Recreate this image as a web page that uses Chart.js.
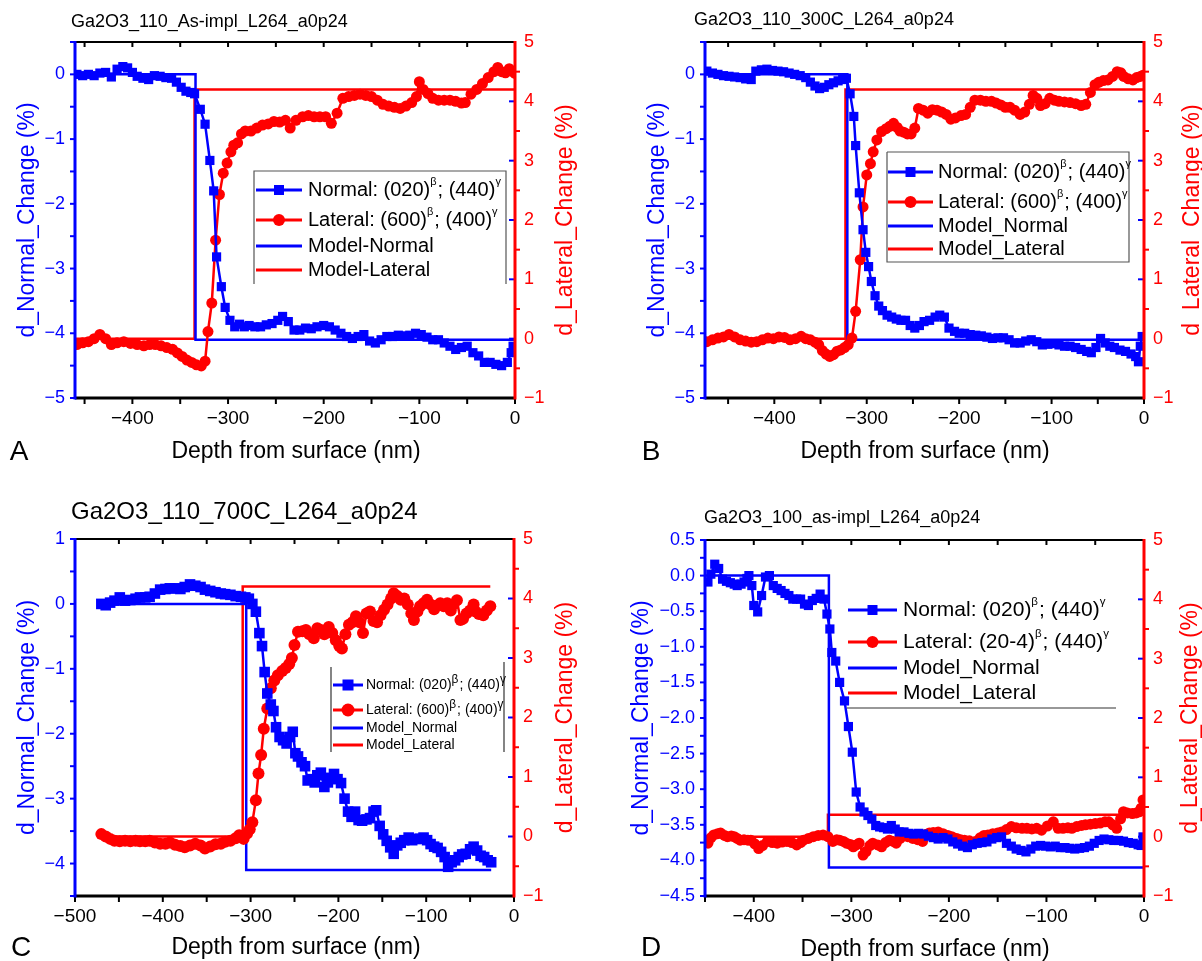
<!DOCTYPE html>
<html>
<head>
<meta charset="utf-8">
<title>Ga2O3 strain depth profiles</title>
<script src="https://cdn.jsdelivr.net/npm/chart.js@4.4.1/dist/chart.umd.min.js"></script>
<style>
  body { margin: 0; background: #fff; }
  #wrap { position: relative; width: 1202px; height: 961px; background: #fff; }
  #wrap canvas { position: absolute; }
</style>
</head>
<body>
<div id="wrap">
  <canvas id="pA" width="601" height="480" style="left:0;top:0"></canvas>
  <canvas id="pB" width="601" height="480" style="left:601px;top:0"></canvas>
  <canvas id="pC" width="601" height="481" style="left:0;top:480px"></canvas>
  <canvas id="pD" width="601" height="481" style="left:601px;top:480px"></canvas>
</div>
<script>
// depth (nm), d_Normal_Change (%) / d_Lateral_Change (%)
const normalA = [[-458,0.0],[-452,-0.02],[-446,0.0],[-440,-0.02],[-434,0.02],[-428,0.03],[-422,-0.04],[-416,0.08],[-410,0.12],[-405,0.1],[-400,0.03],[-395,-0.03],[-389,-0.06],[-383,-0.08],[-377,-0.02],[-371,-0.03],[-365,-0.05],[-359,-0.06],[-354,-0.12],[-349,-0.2],[-344,-0.26],[-339,-0.28],[-335,-0.3],[-329,-0.54],[-324,-0.77],[-319,-1.33],[-315,-1.8],[-312,-2.82],[-307,-3.28],[-303,-3.6],[-298,-3.8],[-293,-3.9],[-288,-3.86],[-283,-3.9],[-278,-3.88],[-272,-3.9],[-266,-3.9],[-260,-3.87],[-254,-3.85],[-248,-3.8],[-243,-3.74],[-237,-3.82],[-231,-3.95],[-225,-3.95],[-219,-3.92],[-213,-3.93],[-207,-3.9],[-200,-3.88],[-194,-3.9],[-188,-3.95],[-182,-4.0],[-176,-4.05],[-170,-4.08],[-164,-4.05],[-158,-4.02],[-152,-4.12],[-146,-4.15],[-140,-4.1],[-134,-4.05],[-128,-4.05],[-122,-4.03],[-116,-4.04],[-110,-4.03],[-104,-4.0],[-98,-4.02],[-92,-4.06],[-86,-4.1],[-80,-4.1],[-74,-4.15],[-68,-4.2],[-62,-4.25],[-56,-4.22],[-50,-4.2],[-44,-4.3],[-38,-4.35],[-32,-4.45],[-26,-4.45],[-20,-4.48],[-14,-4.5],[-8,-4.45],[-4,-4.3],[-2,-4.2]];
const lateralA = [[-458,-0.1],[-452,-0.07],[-446,-0.05],[-440,0.0],[-434,0.07],[-428,0.0],[-422,-0.1],[-416,-0.07],[-409,-0.05],[-402,-0.08],[-395,-0.1],[-388,-0.12],[-382,-0.1],[-376,-0.1],[-370,-0.12],[-364,-0.15],[-358,-0.18],[-353,-0.24],[-348,-0.3],[-343,-0.36],[-338,-0.4],[-333,-0.44],[-328,-0.46],[-324,-0.38],[-321,0.12],[-317,0.6],[-313,1.66],[-309,2.43],[-305,2.79],[-301,2.96],[-297,3.15],[-294,3.26],[-290,3.3],[-286,3.45],[-282,3.5],[-276,3.5],[-270,3.55],[-264,3.6],[-258,3.62],[-252,3.66],[-246,3.65],[-240,3.68],[-235,3.55],[-229,3.68],[-222,3.74],[-216,3.76],[-210,3.74],[-204,3.74],[-198,3.74],[-192,3.63],[-186,3.8],[-180,4.05],[-174,4.08],[-168,4.1],[-162,4.12],[-156,4.1],[-150,4.08],[-144,4.02],[-138,3.95],[-132,3.92],[-126,3.9],[-120,3.88],[-114,3.92],[-108,3.98],[-103,4.08],[-100,4.33],[-96,4.2],[-91,4.13],[-86,4.05],[-80,4.02],[-74,4.02],[-68,4.02],[-62,4.0],[-56,3.97],[-52,3.98],[-46,4.12],[-40,4.2],[-34,4.3],[-28,4.4],[-22,4.5],[-18,4.57],[-14,4.5],[-10,4.48],[-6,4.55],[-2,4.5],[0,4.47]];
const modelNormalA = [[-460,0],[-334,0],[-334,-4.1],[0,-4.1]];
const modelLateralA = [[-460,0],[-335,0],[-335,4.2],[0,4.2]];

const normalB = [[-473,0.05],[-467,0.02],[-461,0.0],[-455,-0.02],[-449,-0.03],[-443,-0.04],[-437,-0.05],[-431,-0.07],[-425,-0.08],[-420,0.05],[-414,0.07],[-408,0.08],[-402,0.06],[-396,0.05],[-390,0.04],[-384,0.02],[-378,0.0],[-372,-0.02],[-366,-0.05],[-361,-0.12],[-356,-0.18],[-351,-0.22],[-346,-0.2],[-341,-0.16],[-336,-0.13],[-331,-0.1],[-326,-0.08],[-322,-0.06],[-318,-0.3],[-314,-0.65],[-312,-1.1],[-308,-1.83],[-304,-2.4],[-301,-2.75],[-298,-2.97],[-295,-3.2],[-291,-3.42],[-287,-3.58],[-283,-3.65],[-278,-3.72],[-273,-3.75],[-268,-3.78],[-263,-3.8],[-258,-3.8],[-253,-3.88],[-248,-3.92],[-243,-3.88],[-238,-3.82],[-232,-3.8],[-226,-3.75],[-221,-3.72],[-216,-3.75],[-211,-3.92],[-205,-3.97],[-200,-4.0],[-194,-4.0],[-188,-4.02],[-182,-4.03],[-176,-4.04],[-170,-4.06],[-164,-4.08],[-158,-4.07],[-152,-4.07],[-146,-4.1],[-140,-4.15],[-134,-4.15],[-128,-4.12],[-122,-4.1],[-116,-4.13],[-110,-4.18],[-104,-4.17],[-98,-4.16],[-92,-4.18],[-86,-4.2],[-80,-4.2],[-74,-4.22],[-68,-4.25],[-62,-4.28],[-57,-4.3],[-52,-4.22],[-47,-4.08],[-42,-4.15],[-37,-4.2],[-32,-4.22],[-26,-4.26],[-20,-4.28],[-14,-4.32],[-9,-4.36],[-6,-4.44],[-4,-4.2],[-2,-4.05]];
const lateralB = [[-473,-0.05],[-467,-0.02],[-461,0.01],[-455,0.03],[-449,0.07],[-443,0.03],[-437,-0.02],[-431,-0.04],[-425,-0.06],[-419,-0.05],[-413,-0.02],[-407,0.01],[-401,0.0],[-395,0.03],[-389,0.02],[-383,-0.02],[-377,0.0],[-371,0.04],[-366,0.0],[-361,-0.02],[-356,-0.06],[-352,-0.1],[-348,-0.2],[-344,-0.26],[-340,-0.3],[-336,-0.27],[-332,-0.21],[-328,-0.19],[-324,-0.15],[-320,-0.1],[-316,0.01],[-312,0.46],[-307,1.33],[-304,2.22],[-300,2.76],[-296,2.95],[-293,3.15],[-289,3.35],[-284,3.49],[-279,3.54],[-275,3.58],[-271,3.63],[-267,3.56],[-264,3.5],[-260,3.48],[-256,3.45],[-252,3.45],[-248,3.55],[-244,3.88],[-239,3.85],[-234,3.8],[-229,3.86],[-224,3.85],[-219,3.82],[-214,3.78],[-209,3.7],[-204,3.72],[-198,3.76],[-193,3.78],[-188,3.9],[-183,4.02],[-177,4.02],[-171,4.0],[-165,4.0],[-160,3.97],[-155,3.94],[-150,3.9],[-145,3.9],[-140,3.85],[-134,3.78],[-129,3.82],[-124,3.95],[-120,4.1],[-116,4.05],[-112,3.93],[-107,3.96],[-102,4.05],[-97,4.02],[-92,4.0],[-86,3.99],[-80,3.98],[-74,3.96],[-68,3.93],[-63,3.95],[-58,4.15],[-53,4.28],[-49,4.32],[-44,4.35],[-39,4.36],[-34,4.42],[-29,4.5],[-25,4.48],[-22,4.42],[-17,4.38],[-12,4.36],[-8,4.4],[-4,4.42],[-1,4.44]];
const modelNormalB = [[-475,0],[-321,0],[-321,-4.1],[0,-4.1]];
const modelLateralB = [[-475,0],[-323,0],[-323,4.2],[0,4.2]];

const normalC = [[-470,0.0],[-465,-0.02],[-460,0.02],[-455,0.05],[-449,0.1],[-443,0.05],[-437,0.06],[-431,0.08],[-426,0.1],[-420,0.1],[-415,0.11],[-409,0.16],[-403,0.22],[-397,0.23],[-392,0.24],[-386,0.24],[-380,0.23],[-375,0.26],[-369,0.3],[-363,0.28],[-357,0.26],[-352,0.22],[-346,0.2],[-340,0.18],[-334,0.16],[-329,0.15],[-323,0.14],[-317,0.12],[-311,0.11],[-306,0.1],[-302,0.08],[-298,0.0],[-294,-0.12],[-290,-0.45],[-287,-0.65],[-284,-1.05],[-281,-1.38],[-277,-1.55],[-274,-1.65],[-271,-1.9],[-267,-2.05],[-263,-2.1],[-259,-2.15],[-255,-2.05],[-252,-1.97],[-249,-2.3],[-246,-2.35],[-242,-2.44],[-238,-2.5],[-235,-2.72],[-231,-2.7],[-227,-2.75],[-224,-2.64],[-220,-2.6],[-216,-2.82],[-212,-2.75],[-209,-2.68],[-205,-2.62],[-201,-2.7],[-197,-2.76],[-193,-3.0],[-189,-3.2],[-185,-3.28],[-181,-3.2],[-177,-3.33],[-173,-3.34],[-168,-3.32],[-164,-3.3],[-160,-3.2],[-157,-3.18],[-153,-3.42],[-149,-3.55],[-145,-3.65],[-141,-3.75],[-137,-3.85],[-133,-3.72],[-129,-3.68],[-125,-3.64],[-120,-3.6],[-116,-3.64],[-112,-3.62],[-107,-3.62],[-103,-3.6],[-99,-3.64],[-95,-3.7],[-91,-3.74],[-87,-3.76],[-83,-3.82],[-79,-3.9],[-75,-4.05],[-71,-3.98],[-67,-3.95],[-63,-3.9],[-59,-3.86],[-55,-3.85],[-50,-3.78],[-46,-3.74],[-42,-3.8],[-38,-3.88],[-34,-3.9],[-30,-3.95],[-26,-3.98]];
const lateralC = [[-470,0.04],[-465,0.0],[-460,-0.04],[-455,-0.07],[-449,-0.08],[-443,-0.07],[-437,-0.08],[-431,-0.07],[-426,-0.08],[-420,-0.08],[-415,-0.07],[-409,-0.1],[-403,-0.12],[-397,-0.12],[-392,-0.1],[-386,-0.14],[-380,-0.16],[-375,-0.18],[-369,-0.15],[-363,-0.12],[-357,-0.15],[-352,-0.2],[-346,-0.17],[-340,-0.13],[-334,-0.12],[-329,-0.09],[-323,-0.07],[-317,-0.03],[-313,0.02],[-308,-0.04],[-304,0.05],[-301,0.12],[-298,0.24],[-294,0.61],[-291,1.06],[-288,1.37],[-285,1.81],[-281,2.15],[-277,2.49],[-273,2.62],[-269,2.71],[-264,2.78],[-260,2.83],[-256,2.9],[-253,3.0],[-250,3.22],[-246,3.44],[-241,3.45],[-237,3.47],[-233,3.4],[-228,3.33],[-224,3.5],[-220,3.47],[-216,3.4],[-211,3.52],[-207,3.42],[-203,3.3],[-199,3.2],[-196,3.16],[-192,3.4],[-188,3.56],[-184,3.6],[-180,3.7],[-176,3.6],[-172,3.42],[-168,3.75],[-164,3.78],[-160,3.62],[-156,3.6],[-152,3.72],[-148,3.81],[-144,3.9],[-140,4.0],[-137,4.09],[-133,4.04],[-129,3.98],[-125,4.0],[-121,3.9],[-117,3.75],[-114,3.64],[-110,3.78],[-107,3.87],[-103,3.92],[-99,3.98],[-95,3.9],[-91,3.82],[-88,3.88],[-84,3.92],[-80,3.87],[-76,3.92],[-72,3.8],[-69,3.9],[-65,3.97],[-61,3.64],[-58,3.66],[-54,3.75],[-50,3.8],[-46,3.9],[-44,3.78],[-40,3.74],[-35,3.72],[-31,3.8],[-27,3.87]];
const modelNormalC = [[-470,0],[-305,0],[-305,-4.1],[-26,-4.1]];
const modelLateralC = [[-470,0],[-309,0],[-309,4.2],[-27,4.2]];

const normalD = [[-447,-0.09],[-444,0.02],[-440,0.16],[-436,0.1],[-432,-0.05],[-428,-0.08],[-424,-0.1],[-420,-0.12],[-417,-0.14],[-413,-0.12],[-410,-0.09],[-407,-0.04],[-405,0.0],[-402,-0.14],[-400,-0.42],[-396,-0.51],[-392,-0.28],[-388,-0.02],[-384,0.0],[-380,-0.14],[-376,-0.18],[-372,-0.21],[-368,-0.25],[-364,-0.28],[-360,-0.33],[-356,-0.33],[-352,-0.33],[-348,-0.4],[-344,-0.42],[-340,-0.35],[-336,-0.32],[-332,-0.26],[-328,-0.33],[-325,-0.54],[-322,-0.75],[-320,-1.08],[-316,-1.2],[-312,-1.5],[-307,-1.76],[-303,-2.12],[-299,-2.48],[-295,-3.04],[-291,-3.25],[-287,-3.32],[-283,-3.37],[-279,-3.42],[-275,-3.51],[-271,-3.53],[-267,-3.54],[-263,-3.56],[-259,-3.51],[-255,-3.56],[-251,-3.6],[-246,-3.6],[-241,-3.62],[-236,-3.63],[-231,-3.62],[-226,-3.63],[-221,-3.66],[-216,-3.68],[-211,-3.7],[-206,-3.68],[-201,-3.7],[-196,-3.74],[-191,-3.77],[-186,-3.8],[-181,-3.82],[-176,-3.78],[-171,-3.76],[-166,-3.75],[-161,-3.74],[-156,-3.7],[-151,-3.68],[-146,-3.67],[-141,-3.76],[-136,-3.8],[-131,-3.84],[-126,-3.86],[-121,-3.88],[-116,-3.84],[-111,-3.8],[-106,-3.79],[-101,-3.8],[-96,-3.81],[-91,-3.8],[-86,-3.82],[-81,-3.82],[-76,-3.83],[-71,-3.84],[-66,-3.83],[-61,-3.82],[-56,-3.8],[-51,-3.76],[-46,-3.72],[-41,-3.7],[-36,-3.71],[-31,-3.72],[-26,-3.72],[-21,-3.73],[-16,-3.75],[-11,-3.76],[-6,-3.78],[-3,-3.79],[-1,-3.67]];
const lateralD = [[-447,-0.11],[-444,-0.02],[-441,0.03],[-437,0.05],[-434,0.06],[-430,0.02],[-427,0.0],[-423,0.01],[-420,0.0],[-417,-0.03],[-414,-0.06],[-410,-0.05],[-406,-0.06],[-403,-0.06],[-399,-0.12],[-395,-0.2],[-391,-0.15],[-386,-0.08],[-381,-0.1],[-376,-0.11],[-371,-0.09],[-366,-0.08],[-361,-0.1],[-356,-0.14],[-352,-0.1],[-349,-0.06],[-344,-0.03],[-339,0.0],[-334,0.02],[-329,0.03],[-324,0.0],[-319,-0.08],[-315,-0.05],[-312,-0.06],[-308,-0.08],[-305,-0.11],[-301,-0.13],[-298,-0.17],[-295,-0.14],[-292,-0.11],[-288,-0.31],[-285,-0.25],[-281,-0.15],[-278,-0.11],[-273,-0.14],[-269,-0.17],[-265,-0.1],[-261,-0.06],[-257,-0.08],[-254,-0.11],[-250,-0.03],[-247,0.03],[-242,0.0],[-237,-0.03],[-232,-0.05],[-227,-0.08],[-223,0.04],[-220,0.06],[-216,0.07],[-211,0.08],[-206,0.05],[-201,0.02],[-197,0.0],[-192,-0.03],[-188,-0.05],[-184,-0.06],[-179,-0.07],[-173,-0.08],[-168,-0.02],[-164,0.02],[-160,0.03],[-155,0.05],[-150,0.06],[-146,0.08],[-141,0.12],[-136,0.17],[-131,0.15],[-125,0.14],[-120,0.14],[-115,0.13],[-110,0.14],[-105,0.11],[-99,0.18],[-93,0.25],[-88,0.14],[-83,0.14],[-78,0.15],[-74,0.14],[-69,0.17],[-64,0.19],[-60,0.2],[-55,0.21],[-50,0.22],[-45,0.23],[-40,0.25],[-36,0.25],[-32,0.2],[-28,0.14],[-24,0.3],[-21,0.42],[-17,0.4],[-12,0.39],[-8,0.4],[-5,0.42],[-3,0.48],[-1,0.62]];
const modelNormalD = [[-450,0],[-323,0],[-323,-4.1],[0,-4.1]];
const modelLateralD = [[-450,0],[-324,0],[-324,0.37],[0,0.37]];

// tick labels
const depthTicks = [-400, -300, -200, -100, 0];
const depthTicksC = [-500, -400, -300, -200, -100, 0];
const normalTicks = [0, -1, -2, -3, -4, -5];
const normalTicksC = [1, 0, -1, -2, -3, -4];
const normalTicksD = [0.5, 0, -0.5, -1, -1.5, -2, -2.5, -3, -3.5, -4, -4.5];
const lateralTicks = [5, 4, 3, 2, 1, 0, -1];

const BLUE = '#0000ff';
const RED = '#ff0000';
const FONT = '"Liberation Sans", Arial, sans-serif';

const minus = s => String(s).replace('-', '\u2212');
const xy = arr => arr.map(([x, y]) => ({ x, y }));

function seg(ctx, x1, y1, x2, y2) {
  ctx.beginPath();
  ctx.moveTo(x1, y1);
  ctx.lineTo(x2, y2);
  ctx.stroke();
}

// text with raised β / γ parts
function richText(ctx, parts, x, y, size, supScale) {
  let cx = x;
  for (const [txt, sup] of parts) {
    const fs = sup ? size * supScale : size;
    ctx.font = fs + 'px ' + FONT;
    ctx.fillText(txt, cx, sup ? y - size * 0.38 : y);
    cx += ctx.measureText(txt).width + (sup ? 1 : 0);
  }
}

// frame, tick marks, axis titles, panel title, letter and legend
const decor = {
  id: 'decor',
  afterDraw(chart, args, o) {
    const ctx = chart.ctx;
    const a = chart.chartArea;
    const sx = chart.scales.x, yl = chart.scales.yL, yr = chart.scales.yR;
    ctx.save();

    // tick marks
    ctx.lineWidth = 2;
    ctx.strokeStyle = '#000';
    for (let v = Math.ceil(sx.min / 50) * 50; v <= sx.max; v += 50) {
      const px = sx.getPixelForValue(v);
      seg(ctx, px, a.bottom, px, a.bottom + 6);
      seg(ctx, px, a.top, px, a.top + 5);
    }
    ctx.strokeStyle = BLUE;
    for (let v = yl.min; v <= yl.max + 1e-9; v += o.leftStep) {
      const py = yl.getPixelForValue(v);
      seg(ctx, a.left - 5, py, a.left, py);
    }
    for (let v = yr.min; v <= yr.max + 1e-9; v += 0.5) {
      const py = yr.getPixelForValue(v);
      if (Number.isInteger(v)) {
        ctx.strokeStyle = BLUE;
        seg(ctx, a.right - 6, py, a.right, py);
      } else {
        ctx.strokeStyle = RED;
        seg(ctx, a.right, py, a.right + 5, py);
      }
    }

    // frame
    ctx.strokeStyle = '#000';
    ctx.lineWidth = 2;
    seg(ctx, a.left, a.top, a.right, a.top);
    ctx.lineWidth = 3;
    seg(ctx, a.left, a.bottom, a.right, a.bottom);
    ctx.strokeStyle = BLUE;
    seg(ctx, a.left, a.top - 1, a.left, a.bottom + 1.5);
    ctx.strokeStyle = RED;
    seg(ctx, a.right, a.top - 1, a.right, a.bottom + 1.5);

    // axis titles
    const midY = (a.top + a.bottom) / 2;
    ctx.textAlign = 'center';
    ctx.textBaseline = 'middle';
    ctx.font = '23px ' + FONT;
    ctx.fillStyle = '#000';
    ctx.fillText('Depth from surface (nm)', o.xTitle[0], o.xTitle[1]);
    ctx.save();
    ctx.translate(o.leftTitleX, midY);
    ctx.rotate(-Math.PI / 2);
    ctx.fillStyle = BLUE;
    ctx.fillText('d_Normal_Change (%)', 0, 0);
    ctx.restore();
    ctx.save();
    ctx.translate(o.rightTitleX, midY);
    ctx.rotate(-Math.PI / 2);
    ctx.fillStyle = RED;
    ctx.fillText('d_Lateral_Change (%)', 0, 0);
    ctx.restore();

    // panel title and letter
    ctx.fillStyle = '#000';
    ctx.textAlign = 'left';
    ctx.font = o.titleSize + 'px ' + FONT;
    ctx.fillText(o.title, o.titlePos[0], o.titlePos[1]);
    ctx.textAlign = 'center';
    ctx.font = '28px ' + FONT;
    ctx.fillText(o.letter, o.letterPos[0], o.letterPos[1]);

    // legend
    const L = o.legend;
    ctx.strokeStyle = L.frameColor;
    ctx.lineWidth = 1.2;
    for (const p of L.frame) {
      ctx.beginPath();
      ctx.moveTo(p[0], p[1]);
      for (let i = 2; i < p.length; i += 2) ctx.lineTo(p[i], p[i + 1]);
      ctx.stroke();
    }
    ctx.textAlign = 'left';
    L.rows.forEach((row, i) => {
      const y = L.ys[i];
      const color = i % 2 === 0 ? BLUE : RED;
      ctx.strokeStyle = color;
      ctx.fillStyle = color;
      ctx.lineWidth = 3;
      seg(ctx, L.x0, y, L.x1, y);
      const cx = (L.x0 + L.x1) / 2;
      if (i === 0) {
        ctx.fillRect(cx - L.sq / 2, y - L.sq / 2, L.sq, L.sq);
      } else if (i === 1) {
        ctx.beginPath();
        ctx.arc(cx, y, L.dot, 0, Math.PI * 2);
        ctx.fill();
      }
      ctx.fillStyle = '#000';
      richText(ctx, row, L.tx, y, L.size, L.sup);
    });
    ctx.restore();
  }
};

function panel(id, p) {
  new Chart(document.getElementById(id), {
    type: 'scatter',
    data: {
      datasets: [
        { label: 'Normal', data: xy(p.normal), yAxisID: 'yL', showLine: true,
          borderColor: BLUE, backgroundColor: BLUE, borderWidth: 2.5,
          pointStyle: 'rect', pointRadius: p.sqR, pointBorderWidth: 0 },
        { label: 'Lateral', data: xy(p.lateral), yAxisID: 'yR', showLine: true,
          borderColor: RED, backgroundColor: RED, borderWidth: 2.5,
          pointStyle: 'circle', pointRadius: p.dotR, pointBorderWidth: 0 },
        { label: 'Model_Normal', data: xy(p.modelN), yAxisID: 'yL', showLine: true,
          borderColor: BLUE, borderWidth: 2.5, pointRadius: 0 },
        { label: 'Model_Lateral', data: xy(p.modelL), yAxisID: 'yR', showLine: true,
          borderColor: RED, borderWidth: 2.5, pointRadius: 0 }
      ]
    },
    options: {
      responsive: false,
      animation: false,
      events: [],
      layout: { padding: { top: p.area[1], left: 0, right: 0, bottom: 0 } },
      plugins: { legend: { display: false }, tooltip: { enabled: false }, decor: p.decor },
      scales: {
        x: {
          type: 'linear', min: p.xRange[0], max: p.xRange[1],
          grid: { display: false, drawTicks: false }, border: { display: false },
          afterFit: s => { s.height = p.h - p.area[3]; },
          afterBuildTicks: s => { s.ticks = p.xTicks.map(v => ({ value: v })); },
          ticks: { color: '#000', padding: 9, autoSkip: false, maxRotation: 0,
                   font: { family: FONT, size: 19 }, callback: v => minus(v) }
        },
        yL: {
          position: 'left', min: p.yLRange[0], max: p.yLRange[1],
          grid: { display: false, drawTicks: false }, border: { display: false },
          afterFit: s => { s.width = p.area[0]; },
          afterBuildTicks: s => { s.ticks = p.yLTicks.map(v => ({ value: v })); },
          ticks: { color: BLUE, padding: 10, autoSkip: false,
                   font: { family: FONT, size: 18 }, callback: p.yLFmt }
        },
        yR: {
          position: 'right', min: -1, max: 5,
          grid: { display: false, drawTicks: false }, border: { display: false },
          afterFit: s => { s.width = p.w - p.area[2]; },
          afterBuildTicks: s => { s.ticks = lateralTicks.map(v => ({ value: v })); },
          ticks: { color: RED, padding: 9, autoSkip: false,
                   font: { family: FONT, size: 18 }, callback: v => minus(v) }
        }
      }
    },
    plugins: [decor]
  });
}

const rowsHyph = [
  [['Normal: (020)', 0], ['\u03b2', 1], ['; (440)', 0], ['\u03b3', 1]],
  [['Lateral: (600)', 0], ['\u03b2', 1], ['; (400)', 0], ['\u03b3', 1]],
  [['Model-Normal', 0]],
  [['Model-Lateral', 0]]
];
const rowsUnder = [
  [['Normal: (020)', 0], ['\u03b2', 1], ['; (440)', 0], ['\u03b3', 1]],
  [['Lateral: (600)', 0], ['\u03b2', 1], ['; (400)', 0], ['\u03b3', 1]],
  [['Model_Normal', 0]],
  [['Model_Lateral', 0]]
];
const rowsD = [
  [['Normal: (020)', 0], ['\u03b2', 1], ['; (440)', 0], ['\u03b3', 1]],
  [['Lateral: (20-4)', 0], ['\u03b2', 1], ['; (440)', 0], ['\u03b3', 1]],
  [['Model_Normal', 0]],
  [['Model_Lateral', 0]]
];

panel('pA', {
  w: 601, h: 480, area: [75, 42, 515, 398],
  normal: normalA, lateral: lateralA, modelN: modelNormalA, modelL: modelLateralA,
  xRange: [-460, 0], xTicks: depthTicks,
  yLRange: [-5, 0.5], yLTicks: normalTicks, yLFmt: v => minus(v),
  sqR: 6.5, dotR: 5.5,
  decor: {
    leftStep: 0.5, xTitle: [296, 452], leftTitleX: 28, rightTitleX: 566,
    title: 'Ga2O3_110_As-impl_L264_a0p24', titleSize: 18, titlePos: [71, 22],
    letter: 'A', letterPos: [19, 452],
    legend: { frameColor: '#555', frame: [[254, 284, 254, 171, 506, 171, 506, 284]],
              x0: 256, x1: 302, tx: 308, ys: [190, 220, 246, 270], size: 20, sup: 0.55,
              sq: 10, dot: 6, rows: rowsHyph }
  }
});

panel('pB', {
  w: 601, h: 480, area: [104, 42, 543, 398],
  normal: normalB, lateral: lateralB, modelN: modelNormalB, modelL: modelLateralB,
  xRange: [-475, 0], xTicks: depthTicks,
  yLRange: [-5, 0.5], yLTicks: normalTicks, yLFmt: v => minus(v),
  sqR: 6.5, dotR: 5.5,
  decor: {
    leftStep: 0.5, xTitle: [324, 452], leftTitleX: 57, rightTitleX: 592,
    title: 'Ga2O3_110_300C_L264_a0p24', titleSize: 18, titlePos: [93, 20],
    letter: 'B', letterPos: [50, 452],
    legend: { frameColor: '#555', frame: [[286, 152, 528, 152, 528, 262, 286, 262, 286, 152]],
              x0: 287, x1: 332, tx: 337, ys: [172, 202, 226, 249], size: 20, sup: 0.55,
              sq: 10, dot: 6, rows: rowsUnder }
  }
});

panel('pC', {
  w: 601, h: 481, area: [75, 59, 514, 416],
  normal: normalC, lateral: lateralC, modelN: modelNormalC, modelL: modelLateralC,
  xRange: [-500, 0], xTicks: depthTicksC,
  yLRange: [-4.5, 1], yLTicks: normalTicksC, yLFmt: v => minus(v),
  sqR: 7.5, dotR: 6,
  decor: {
    leftStep: 0.5, xTitle: [296, 468], leftTitleX: 28, rightTitleX: 566,
    title: 'Ga2O3_110_700C_L264_a0p24', titleSize: 24, titlePos: [71, 32],
    letter: 'C', letterPos: [21, 468],
    legend: { frameColor: '#333', frame: [[331, 187, 331, 272], [504, 182, 504, 272]],
              x0: 333, x1: 363, tx: 366, ys: [205, 230, 248, 265], size: 14, sup: 0.85,
              sq: 11, dot: 6.5, rows: rowsUnder }
  }
});

panel('pD', {
  w: 601, h: 481, area: [104, 60, 543, 416],
  normal: normalD, lateral: lateralD, modelN: modelNormalD, modelL: modelLateralD,
  xRange: [-450, 0], xTicks: depthTicks,
  yLRange: [-4.5, 0.5], yLTicks: normalTicksD, yLFmt: v => minus(v.toFixed(1)),
  sqR: 6.5, dotR: 5.5,
  decor: {
    leftStep: 0.25, xTitle: [324, 470], leftTitleX: 41, rightTitleX: 590,
    title: 'Ga2O3_100_as-impl_L264_a0p24', titleSize: 18, titlePos: [103, 38],
    letter: 'D', letterPos: [50, 468],
    legend: { frameColor: '#333', frame: [[246, 228, 515, 228]],
              x0: 247, x1: 296, tx: 302, ys: [130, 162, 188, 213], size: 21, sup: 0.55,
              sq: 10, dot: 6, rows: rowsD }
  }
});
</script>
</body>
</html>
